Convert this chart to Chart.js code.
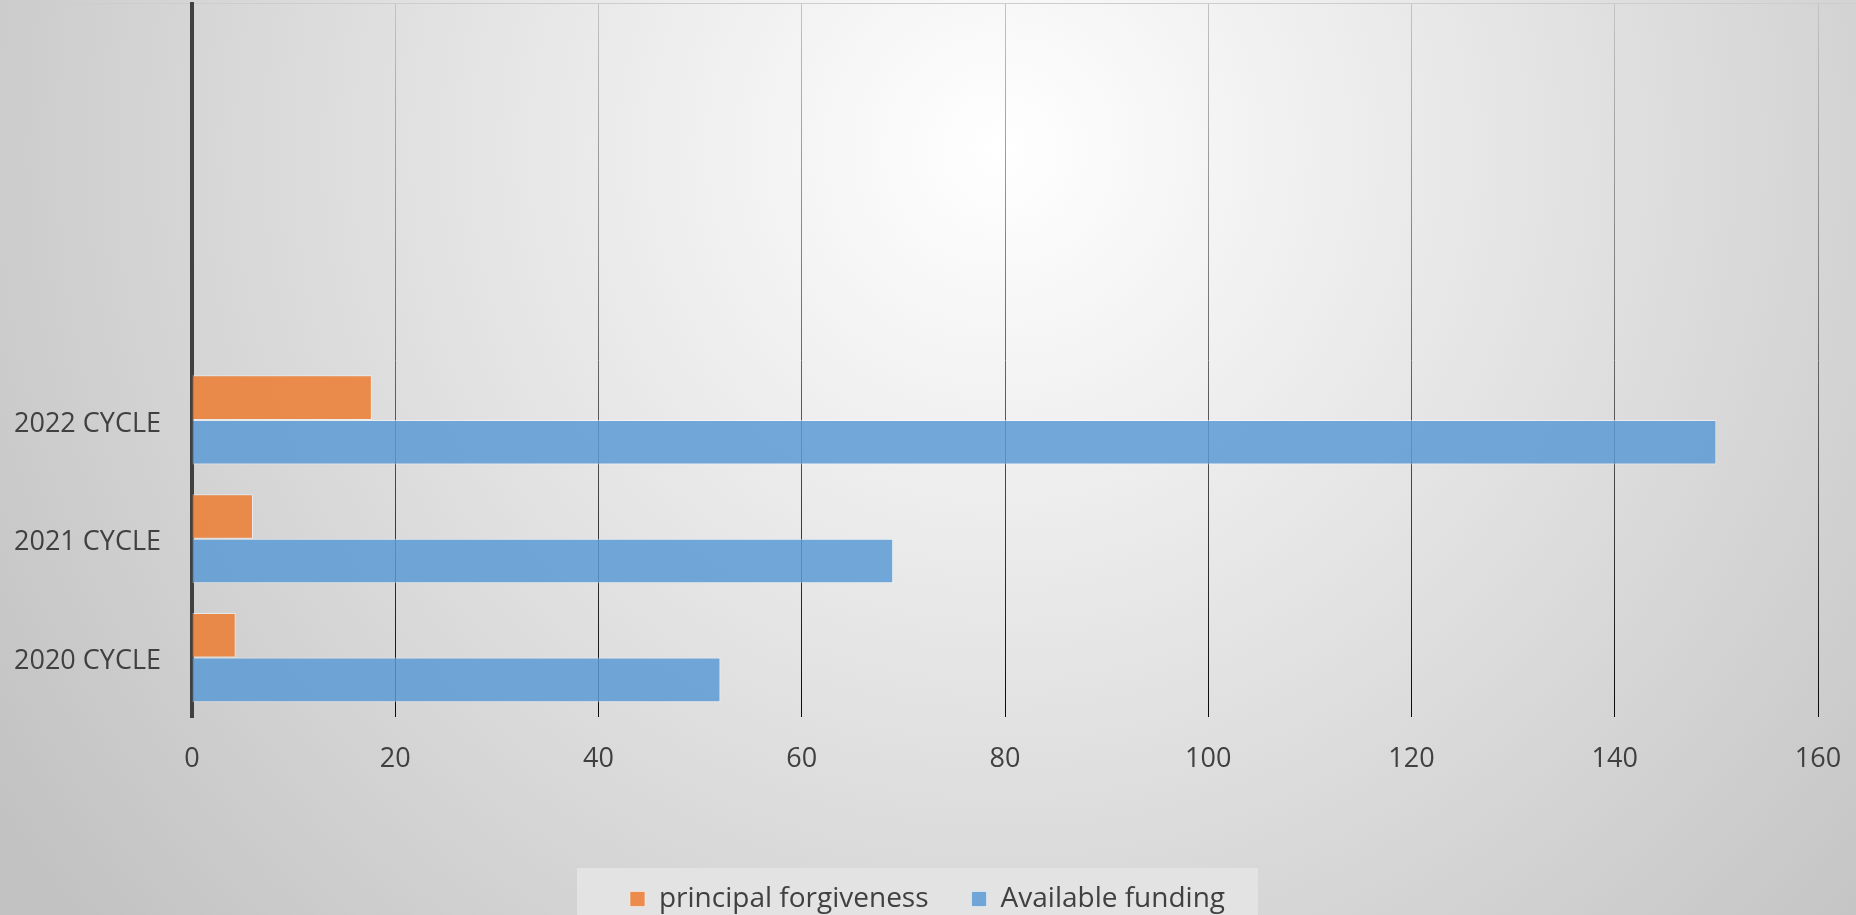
<!DOCTYPE html>
<html>
<head>
<meta charset="utf-8">
<script src="https://cdn.jsdelivr.net/npm/chart.js@4.4.1/dist/chart.umd.min.js"></script>
<style>
  html, body { margin: 0; padding: 0; background: #d0d0d0; }
  #wrap { width: 1856px; height: 915px; position: relative; }
  canvas { display: block; }
</style>
</head>
<body>
<div id="wrap"><canvas id="c" width="1856" height="915"></canvas></div>
<script>
// Categories listed top-to-bottom as they appear (three empty slots above)
const categories = ['', '', '', '2022 CYCLE', '2021 CYCLE', '2020 CYCLE'];
const principalForgiveness = [null, null, null, 17.7, 6, 4.3];
const availableFunding = [null, null, null, 150, 69, 52];
const seriesNames = ['principal forgiveness', 'Available funding'];
const xTickMin = 0, xTickMax = 160, xTickStep = 20;

Chart.defaults.font.family = "'Open Sans', 'Liberation Sans', sans-serif";
Chart.defaults.color = '#404040';

const LEGEND_PAD = 43;

const bgPlugin = {
  id: 'bgPlugin',
  afterLayout(chart) {
    const lg = chart.legend;
    if (lg) {
      const s = LEGEND_PAD / 2 - 3;
      lg.left += s;
      lg.right += s;
    }
  },
  beforeDraw(chart) {
    const { ctx, width, height } = chart;
    ctx.save();
    const g = ctx.createRadialGradient(1000, 150, 0, 1000, 150, 1200);
    g.addColorStop(0, '#ffffff');
    g.addColorStop(1, '#c2c2c2');
    ctx.fillStyle = g;
    ctx.fillRect(0, 0, width, height);
    ctx.strokeStyle = '#cdcdcd';
    ctx.lineWidth = 1;
    ctx.beginPath();
    ctx.moveTo(0, 3.5);
    ctx.lineTo(width, 3.5);
    ctx.stroke();
    const lg = chart.legend;
    if (lg && lg.legendHitBoxes && lg.legendHitBoxes.length) {
      const hb = lg.legendHitBoxes;
      const first = hb[0], last = hb[hb.length - 1];
      const cy = first.top + first.height / 2;
      const left = first.left - 53;
      const right = last.left + last.width + 33;
      const top = cy - 31;
      ctx.fillStyle = '#e3e3e3';
      ctx.fillRect(left, top, right - left, height - top);
    }
    ctx.restore();
  }
};

new Chart(document.getElementById('c'), {
  type: 'bar',
  data: {
    labels: categories,
    datasets: [
      {
        label: seriesNames[0],
        data: principalForgiveness,
        backgroundColor: 'rgba(237,125,49,0.85)',
        borderColor: 'rgba(255,255,255,0.5)',
        borderWidth: 1,
        categoryPercentage: 0.75,
        barPercentage: 1.0
      },
      {
        label: seriesNames[1],
        data: availableFunding,
        backgroundColor: 'rgba(91,155,213,0.85)',
        borderColor: 'rgba(255,255,255,0.5)',
        borderWidth: 1,
        categoryPercentage: 0.75,
        barPercentage: 1.0
      }
    ]
  },
  options: {
    indexAxis: 'y',
    responsive: false,
    animation: false,
    layout: { padding: { top: 4, right: 38, left: 0, bottom: -8 } },
    scales: {
      x: {
        min: xTickMin,
        max: xTickMax,
        ticks: { stepSize: xTickStep, padding: 26, font: { size: 27 }, color: '#404040' },
        grid: {
          drawTicks: false,
          lineWidth: 1,
          color: (c) => {
            const ch = c.chart;
            const a = ch.chartArea;
            if (!a) return '#777';
            const g = ch.ctx.createLinearGradient(0, a.top, 0, a.bottom);
            g.addColorStop(0, '#c4c4c4');
            g.addColorStop(0.5, '#666666');
            g.addColorStop(1, '#0a0a0a');
            return g;
          }
        },
        border: { display: false },
        afterFit(scale) { scale.height = 125; scale.paddingLeft = 0; scale.paddingRight = 0; }
      },
      y: {
        ticks: { padding: 31, labelOffset: 4, font: { size: 27 }, color: '#404040' },
        grid: { display: false, drawTicks: false },
        border: { display: true, color: '#404040', width: 4 },
        afterFit(scale) { scale.width = 192; scale.paddingTop = 0; scale.paddingBottom = 0; }
      }
    },
    plugins: {
      legend: {
        position: 'bottom',
        labels: {
          boxWidth: 15,
          boxHeight: 15,
          padding: LEGEND_PAD,
          font: { size: 28 },
          color: '#404040'
        }
      },
      tooltip: { enabled: false }
    }
  },
  plugins: [bgPlugin]
});
</script>
</body>
</html>
